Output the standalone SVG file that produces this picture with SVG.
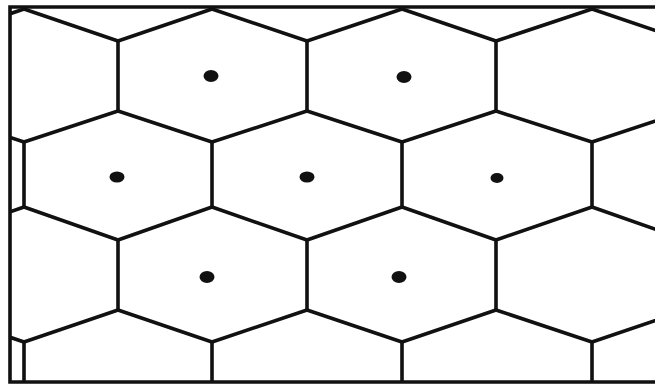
<svg xmlns="http://www.w3.org/2000/svg" width="655" height="385" viewBox="0 0 655 385">
<style>
.ln{fill:none;stroke:#111;stroke-width:3.6;stroke-linejoin:round;stroke-linecap:round}
.fr{fill:none;stroke:#111;stroke-width:3.6}
.dot{fill:#111}
</style>
<defs>
<clipPath id="clip"><rect x="10" y="7" width="660" height="375"/></clipPath>
</defs>
<rect width="655" height="385" fill="#fff"/>
<g id="grid" class="ln" clip-path="url(#clip)">
<path d="M-70,41 L24,9 L118,41 L212,9 L307,41 L402,9 L496,41 L592,9 L686,41"/>
<path d="M118,41 V111 M307,41 V111 M496,41 V111"/>
<path d="M-70,111 L24,142 L118,111 L212,142 L307,111 L402,142 L496,111 L592,142 L686,111"/>
<path d="M24,142 V207 M212,142 V207 M402,142 V207 M592,142 V207"/>
<path d="M-70,240 L24,207 L118,240 L212,207 L307,240 L402,207 L496,240 L592,207 L686,240"/>
<path d="M118,240 V310 M307,240 V310 M496,240 V310"/>
<path d="M-70,310 L24,342 L118,310 L212,342 L307,310 L402,342 L496,310 L592,342 L686,310"/>
<path d="M24,342 V384 M212,342 V384 M402,342 V384 M592,342 V384"/>
</g>
<g id="frame" class="fr">
<path d="M656,7 H10 V382 H656"/>
</g>
<g id="points" class="dot">
<ellipse cx="211" cy="76" rx="7.5" ry="6"/>
<ellipse cx="404" cy="77" rx="7.5" ry="6"/>
<ellipse cx="117" cy="177" rx="7.5" ry="5.5"/>
<ellipse cx="307" cy="177" rx="7.5" ry="5.5"/>
<ellipse cx="497" cy="178" rx="6.5" ry="5"/>
<ellipse cx="207" cy="277" rx="7.5" ry="6"/>
<ellipse cx="399" cy="277" rx="7.5" ry="6"/>
</g>
</svg>
